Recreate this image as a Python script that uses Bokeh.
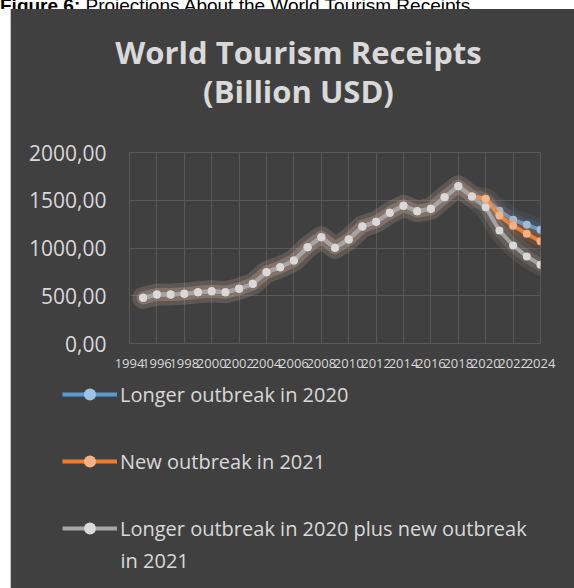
from bokeh.plotting import figure
from bokeh.models import (Range1d, FixedTicker, Legend, LegendItem, Label, Div, Spacer)
from bokeh.layouts import column, row
from bokeh.embed import file_html
from bokeh.resources import INLINE

# ---------------- data ----------------
years = list(range(1995, 2025))
historical = [478, 513, 513, 520, 537, 548, 537, 572, 625, 747, 799, 869, 1008, 1113,
              1002, 1089, 1225, 1274, 1368, 1442, 1385, 1410, 1532, 1647, 1539]
proj_longer_2020 = [1511, 1390, 1295, 1243, 1190]
proj_new_2021 = [1515, 1340, 1232, 1148, 1071]
proj_both = [1427, 1183, 1026, 911, 824]

series_names = ["Longer outbreak in 2020", "New outbreak in 2021",
                "Longer outbreak in 2020 plus new outbreak"]
series_extra_line = "in 2021"
x_ticks = list(range(1994, 2025, 2))
x_tick_labels = [str(t) for t in x_ticks]
y_ticks = [0, 500, 1000, 1500, 2000]
y_tick_labels = ["0,00", "500,00", "1000,00", "1500,00", "2000,00"]
title_lines = ["World Tourism Receipts", "(Billion USD)"]
caption_bold = "Figure 6:"
caption_rest = "Projections About the World Tourism Receipts"

series_values = [historical + proj_longer_2020,
                 historical + proj_new_2021,
                 historical + proj_both]

# ---------------- styles ----------------
BG = "#404040"
GRID = "#595959"
TXT = "#d9d9d9"
line_colors = ["#5b9bd5", "#ed7d31", "#a5a5a5"]
marker_colors = ["#9dc3e6", "#f4b183", "#d9d9d9"]
glow_colors = ["#5b9bd5", "#ed7d31", "#e8d8c8"]
FONT = "Open Sans"
W = 563


def blank_fig(h):
    f = figure(output_backend="svg", toolbar_location=None, width=W, height=h,
               min_border=0, x_axis_type=None, y_axis_type=None, frame_align=False,
               x_range=Range1d(0, W), y_range=Range1d(0, h))
    f.background_fill_color = BG
    f.border_fill_color = BG
    f.outline_line_color = None
    f.grid.visible = False
    return f


# ---------------- title ----------------
TH = 120
pt = blank_fig(TH)
for txt, base_y in zip(title_lines, [42.7, 81.8]):
    pt.add_layout(Label(x=287, y=TH - base_y, text=txt, text_align="center",
                        text_baseline="alphabetic", text_font=FONT,
                        text_font_style="bold", text_font_size="31px", text_color=TXT))

# ---------------- chart ----------------
p = figure(output_backend="svg", toolbar_location=None, frame_align=False,
           frame_width=411, frame_height=191,
           min_border_left=118, min_border_right=34,
           min_border_top=23, min_border_bottom=36,
           x_range=Range1d(1994, 2024), y_range=Range1d(0, 2000))
p.background_fill_color = BG
p.border_fill_color = BG
p.outline_line_color = GRID

p.xaxis.ticker = FixedTicker(ticks=x_ticks)
p.xaxis.major_label_overrides = dict(zip(x_ticks, x_tick_labels))
p.yaxis.ticker = FixedTicker(ticks=y_ticks)
p.yaxis.major_label_overrides = dict(zip(y_ticks, y_tick_labels))
for ax in (p.xaxis[0], p.yaxis[0]):
    ax.axis_line_color = None
    ax.major_tick_line_color = None
    ax.minor_tick_line_color = None
    ax.major_tick_out = 0
    ax.major_label_text_color = TXT
p.yaxis.major_label_text_font = FONT
p.yaxis.major_label_text_font_size = "21px"
p.yaxis.major_label_standoff = 23
p.xaxis.major_label_text_font = FONT
p.xaxis.major_label_text_font_size = "13px"
p.xaxis.major_label_standoff = 15
p.grid.grid_line_color = GRID
p.grid.grid_line_width = 1

for i, vals in enumerate(series_values):
    p.line(years, vals, line_color=glow_colors[i], line_width=22, line_alpha=0.09,
           line_join="round", line_cap="round")
    p.line(years, vals, line_color=glow_colors[i], line_width=13, line_alpha=0.13,
           line_join="round", line_cap="round")
    p.line(years, vals, line_color=line_colors[i], line_width=4, line_join="round")
    p.scatter(years, vals, size=8, fill_color=marker_colors[i], line_color=None)

# ---------------- legend ----------------
LH = 209
pl = blank_fig(LH)
items = []
for i, vals in enumerate(series_values):
    ln = pl.line(years, vals, line_color=line_colors[i], line_width=4, visible=False)
    mk = pl.scatter(years, vals, size=6, fill_color=marker_colors[i], line_color=None,
                    visible=False)
    items.append(LegendItem(label=series_names[i], renderers=[ln, mk]))
leg_h = 3 * 30 + 2 * 37
legend = Legend(items=items, location=(51, LH - leg_h), orientation="vertical",
                padding=0, margin=0, spacing=37, glyph_width=55, glyph_height=30,
                label_height=30, label_standoff=3,
                label_text_font=FONT, label_text_font_size="20px",
                label_text_color=TXT, background_fill_alpha=0,
                border_line_color=None)
pl.add_layout(legend)
pl.add_layout(Label(x=109, y=LH - 181, text=series_extra_line, text_align="left",
                    text_baseline="middle", text_font=FONT, text_font_size="20px",
                    text_color=TXT))

# ---------------- page ----------------
cap = Div(text=('<div style="font-family:\'Liberation Sans\',Arial,sans-serif;font-size:19px;'
                'line-height:18px;margin-top:-16px;white-space:nowrap;color:#000;">'
                f'<b>{caption_bold}</b> {caption_rest}</div>'),
          width=574, height=9, styles={"overflow": "hidden", "margin": "0", "padding": "0"})

left_gap = Spacer(width=10, height=579)
border = Spacer(width=1, height=579, styles={"background-color": "#c8c8c8"})
panel = column(pt, p, pl, spacing=0, styles={"background-color": BG})
layout = column(cap, row(left_gap, border, panel, spacing=0), spacing=0)

open("out.html", "w").write(file_html(layout, INLINE))
